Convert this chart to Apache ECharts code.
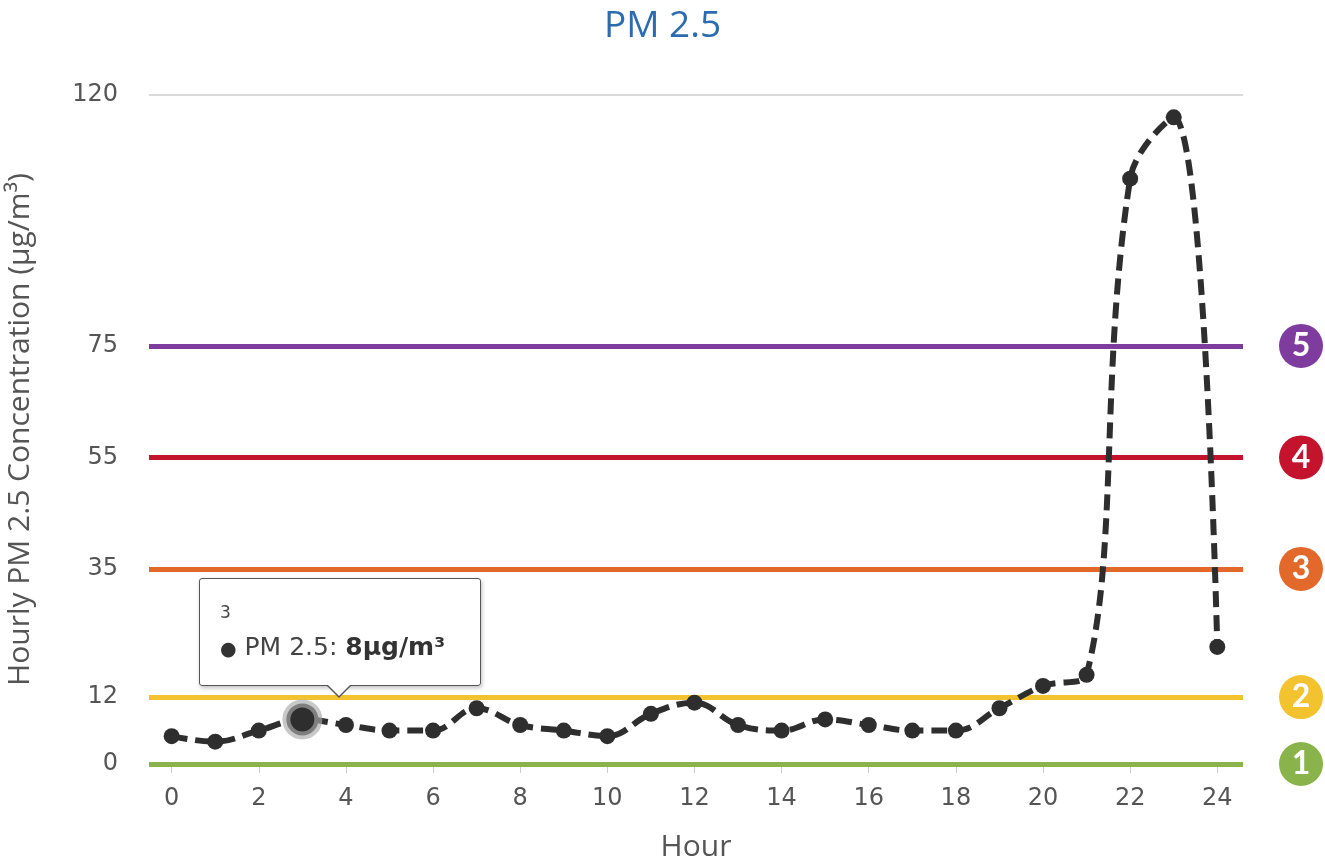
<!DOCTYPE html>
<html>
<head>
<meta charset="utf-8">
<title>PM 2.5</title>
<script src="https://cdn.jsdelivr.net/npm/echarts@6/dist/echarts.min.js"></script>
<style>
  html, body { margin: 0; padding: 0; background: #fff; }
  #chart_pm { width: 1325px; height: 866px; }
  .pm-tip::before, .pm-tip::after {
    content: ""; position: absolute; width: 0; height: 0;
    border-left: 12px solid transparent; border-right: 12px solid transparent;
  }
  .pm-tip::before { left: 127px; bottom: -13px; border-top: 12px solid #555; }
  .pm-tip::after { left: 128px; bottom: -11px; border-left-width: 11px; border-right-width: 11px; border-top: 11px solid #fff; }
</style>
</head>
<body>
<div id="chart_pm"></div>
<script>
// hourly readings
var hours = [0, 1, 2, 3, 4, 5, 6, 7, 8, 9, 10, 11, 12, 13, 14, 15, 16, 17, 18, 19, 20, 21, 22, 23, 24];
var pm25 = [5, 4, 6, 8, 7, 6, 6, 10, 7, 6, 5, 9, 11, 7, 6, 8, 7, 6, 6, 10, 14, 16, 105, 116, 21];
var xTicks = [0, 2, 4, 6, 8, 10, 12, 14, 16, 18, 20, 22, 24];
var yTicks = [0, 12, 35, 55, 75, 120];
// AQI bands
var levelValues = [0, 12, 35, 55, 75];
var levelNames = ["1", "2", "3", "4", "5"];
var levelColors = ["#8bb34b", "#f3c22f", "#e2692a", "#c4132d", "#7e3c9f"];
var tipIndex = 3;

var myChart = echarts.init(document.getElementById("chart_pm"));

var seriesData = hours.map(function (h, i) {
  var item = { value: [h, pm25[i]] };
  if (i === tipIndex) {
    // hovered point: bigger dot with grey halo
    item.symbolSize = 32;
    item.itemStyle = { color: "#2e2e2e", borderColor: "rgba(170,170,170,0.65)", borderWidth: 8 };
  }
  return item;
});

var levelLines = levelValues.map(function (v, i) {
  return {
    yAxis: v,
    lineStyle: { color: levelColors[i], width: 5, type: "solid" },
    label: {
      show: true,
      position: "end",
      distance: 36,
      formatter: "{b|" + levelNames[i] + "}",
      rich: {
        b: {
          backgroundColor: levelColors[i],
          color: "#fff",
          width: 44,
          height: 44,
          lineHeight: 44,
          borderRadius: 22,
          align: "center",
          fontSize: 32,
          fontWeight: "bold",
          fontFamily: "Lato"
        }
      }
    }
  };
});
levelLines.push({
  yAxis: 120,
  lineStyle: { color: "#d9d9d9", width: 2, type: "solid" },
  label: { show: false }
});

var option = {
  animation: false,
  textStyle: { fontFamily: "Open Sans" },
  title: {
    text: "PM 2.5",
    left: "center",
    top: 3,
    textStyle: { color: "#2b6cb0", fontSize: 37, fontWeight: "normal", fontFamily: "Open Sans" }
  },
  grid: { left: 149, right: 82, top: 95, bottom: 102, outerBoundsMode: "none", containLabel: false },
  tooltip: {
    trigger: "item",
    triggerOn: "none",
    alwaysShowContent: true,
    transitionDuration: 0,
    className: "pm-tip",
    position: [199, 578],
    backgroundColor: "rgba(255,255,255,0.97)",
    borderColor: "#555",
    borderWidth: 1,
    borderRadius: 3,
    padding: [21, 17, 8, 20],
    extraCssText: "box-sizing:border-box;width:282px;height:108px;box-shadow:1px 2px 4px rgba(0,0,0,0.25);overflow:visible;",
    formatter: function (p) {
      return '<div style="font-family:\'DejaVu Sans\';font-size:17px;color:#444;line-height:24px;">' + p.value[0] + "</div>" +
        '<div style="font-family:\'DejaVu Sans\';font-size:25px;color:#444;line-height:46px;white-space:nowrap;">' +
        '<span style="color:#333;font-size:19px;">\u25CF</span> PM 2.5: <b style="color:#333;">' +
        p.value[1] + "\u00b5g/m\u00b3</b></div>";
    }
  },
  xAxis: {
    type: "value",
    min: -0.52,
    max: 24.59,
    name: "Hour",
    nameLocation: "middle",
    nameGap: 68,
    nameTextStyle: { color: "#555", fontSize: 30 },
    axisLine: { show: false },
    axisTick: { show: true, customValues: xTicks, length: 9, lineStyle: { color: "#ccc", width: 1 } },
    axisLabel: { customValues: xTicks, color: "#555", fontSize: 24, margin: 23, fontFamily: "DejaVu Sans" },
    splitLine: { show: false }
  },
  yAxis: {
    type: "value",
    min: 0,
    max: 120,
    name: "Hourly PM 2.5 Concentration (\u00b5g/m\u00b3)",
    nameLocation: "middle",
    nameGap: 114,
    nameTextStyle: { color: "#555", fontSize: 30 },
    axisLine: { show: false },
    axisTick: { show: false },
    axisLabel: { customValues: yTicks, color: "#555", fontSize: 24, margin: 31, fontFamily: "DejaVu Sans" },
    splitLine: { show: false }
  },
  series: [
    {
      name: "levels",
      type: "line",
      data: [],
      z: 1,
      silent: true,
      markLine: {
        silent: true,
        symbol: "none",
        data: levelLines
      }
    },
    {
      name: "PM 2.5",
      type: "line",
      z: 5,
      smooth: 0.4,
      symbol: "circle",
      symbolSize: 16,
      data: seriesData,
      itemStyle: { color: "#2e2e2e" },
      lineStyle: { color: "#2e2e2e", width: 6, type: [16, 8] }
    }
  ]
};

myChart.setOption(option);
myChart.dispatchAction({ type: "showTip", seriesIndex: 1, dataIndex: tipIndex });
window.addEventListener("resize", function () {
  myChart.resize();
});
</script>
</body>
</html>
